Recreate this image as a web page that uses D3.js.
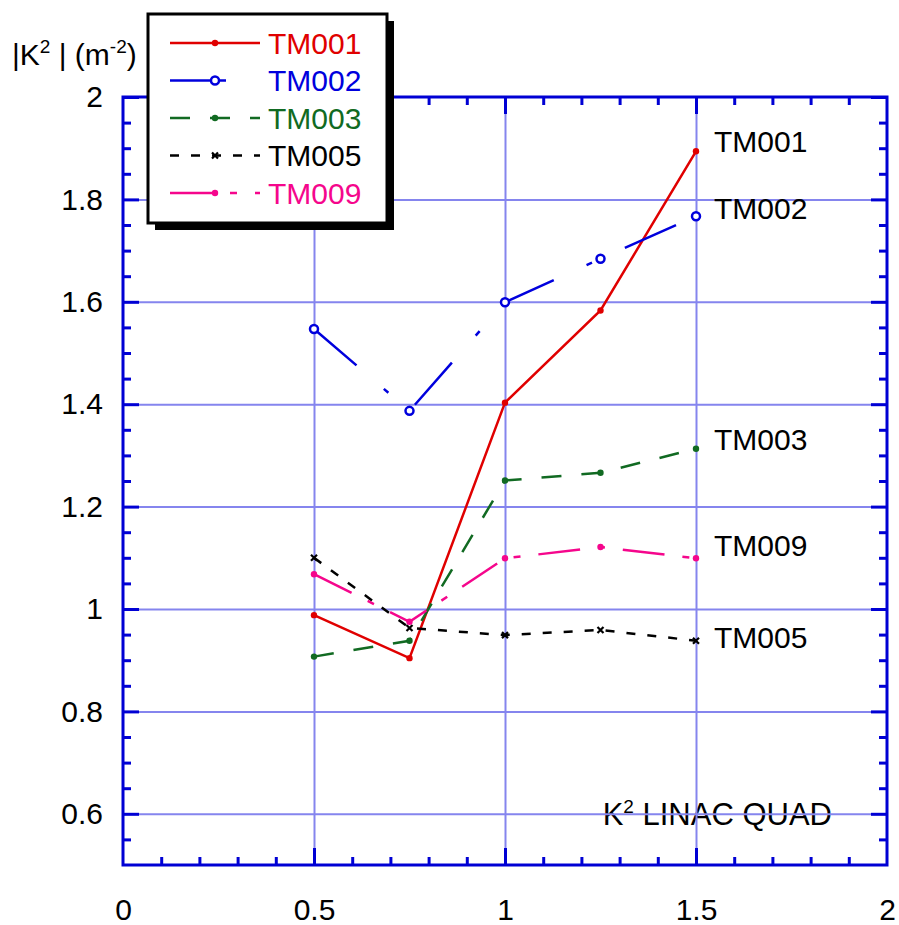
<!DOCTYPE html>
<html>
<head>
<meta charset="utf-8">
<script src="https://cdn.jsdelivr.net/npm/d3@7"></script>
<style>
  body { margin: 0; background: #fff; }
  svg { font-family: Arial, "Liberation Sans", sans-serif; }
  .grid line { stroke: #8585ee; stroke-width: 2; }
  .ticks line { stroke: #0000d4; stroke-width: 3; }
  .lbl text { font-size: 30px; fill: #000; }
</style>
</head>
<body>
<div id="chart"></div>
<script>
// K^2 of linac quad vs. something, 5 modes
const xVals = [0.5, 0.75, 1, 1.25, 1.5];
const seriesNames = ['TM001', 'TM002', 'TM003', 'TM005', 'TM009'];
const tm001 = [0.988, 0.904, 1.403, 1.583, 1.894];
const tm002 = [1.547, 1.387, 1.599, 1.684, 1.767];
const tm003 = [0.907, 0.938, 1.251, 1.266, 1.313];
const tm005 = [1.100, 0.963, 0.949, 0.959, 0.938];
const tm009 = [1.068, 0.975, 1.099, 1.121, 1.099];
const xTicks = [0, 0.5, 1, 1.5, 2];
const yTicks = [0.6, 0.8, 1, 1.2, 1.4, 1.6, 1.8, 2];

const seriesVals = [tm001, tm002, tm003, tm005, tm009];
const colors = ['#e00000', '#0000dd', '#116a22', '#000000', '#f5068c'];
const dashes = ['none', '56,36,6,36', '20,20', '9,12', '42,18,7,18'];
const markers = ['dot', 'ring', 'dot', 'cross', 'dot'];
const labelDy = [1, 3, 1, 7, -2];  // baseline nudges for the end labels

const width = 899, height = 925;
const margin = {left: 123, top: 97, right: 12, bottom: 60};
const w = width - margin.left - margin.right,
      h = height - margin.top - margin.bottom;

const x = d3.scaleLinear().domain([0, 2]).range([0, w]);
const y = d3.scaleLinear().domain([0.5, 2]).range([h, 0]);

const svg = d3.select('#chart').append('svg').attr('width', width).attr('height', height);
const g = svg.append('g').attr('transform', 'translate(' + margin.left + ',' + margin.top + ')');

// note text sits under the grid
g.append('text')
    .attr('x', 709).attr('y', y(0.6) + 11)
    .attr('text-anchor', 'end')
    .style('font-size', '31px')
    .html('K<tspan dy="-12" font-size="19">2</tspan><tspan dy="12"> LINAC QUAD</tspan>');

// grid
g.append('g').attr('class', 'grid')
    .call(d3.axisBottom(x).tickValues([0.5, 1, 1.5]).tickSize(h).tickFormat(''));
g.append('g').attr('class', 'grid')
    .call(d3.axisLeft(y).tickValues(yTicks.filter(v => v < 2)).tickSize(-w).tickFormat(''));
svg.selectAll('.grid .domain').remove();

const range = (a, b, s) => d3.range(Math.round((b - a) / s) + 1).map(i => +(a + i * s).toFixed(3));
const xMinor = range(0.1, 1.9, 0.1).filter(v => Math.abs(v * 2 - Math.round(v * 2)) > 1e-6);
const yMinor = range(0.55, 1.95, 0.05).filter(v => Math.abs(v * 5 - Math.round(v * 5)) > 1e-6);

// inward ticks on all four sides
const tickGroups = [
  [d3.axisBottom(x).tickValues([0.5, 1, 1.5]).tickSize(-17).tickFormat(''), 'translate(0,' + h + ')'],
  [d3.axisBottom(x).tickValues(xMinor).tickSize(-8).tickFormat(''), 'translate(0,' + h + ')'],
  [d3.axisTop(x).tickValues([0.5, 1, 1.5]).tickSize(-17).tickFormat(''), null],
  [d3.axisTop(x).tickValues(xMinor).tickSize(-8).tickFormat(''), null],
  [d3.axisLeft(y).tickValues(yTicks).tickSize(-16).tickFormat(''), null],
  [d3.axisLeft(y).tickValues(yMinor).tickSize(-8).tickFormat(''), null],
  [d3.axisRight(y).tickValues(yTicks).tickSize(-16).tickFormat(''), 'translate(' + w + ',0)'],
  [d3.axisRight(y).tickValues(yMinor).tickSize(-8).tickFormat(''), 'translate(' + w + ',0)']
];
tickGroups.forEach(([ax, tr]) => {
  const tg = g.append('g').attr('class', 'ticks').call(ax);
  if (tr) tg.attr('transform', tr);
  tg.select('.domain').remove();
});

// tick labels
g.append('g').attr('class', 'lbl')
    .call(d3.axisLeft(y).tickValues(yTicks).tickSize(0).tickPadding(20).tickFormat(d3.format('')));
g.append('g').attr('class', 'lbl').attr('transform', 'translate(0,' + h + ')')
    .call(d3.axisBottom(x).tickValues(xTicks).tickSize(0).tickPadding(34).tickFormat(d3.format('')));
svg.selectAll('.lbl .domain').remove();
svg.selectAll('.lbl text').attr('font-family', null).attr('font-size', null);

// frame
g.append('rect').attr('width', w).attr('height', h)
    .attr('fill', 'none').attr('stroke', '#0000d4').attr('stroke-width', 3);

// series
const line = d3.line().x((d, i) => x(xVals[i])).y(d => y(d));

function drawMarker(sel, kind, color, cx, cy) {
  if (kind === 'ring') {
    sel.append('circle').attr('cx', cx).attr('cy', cy).attr('r', 4)
        .attr('fill', '#fff').attr('stroke', color).attr('stroke-width', 2.5);
  } else if (kind === 'cross') {
    sel.append('path')
        .attr('d', 'M' + (cx - 3) + ',' + (cy - 3) + 'L' + (cx + 3) + ',' + (cy + 3) +
                   'M' + (cx + 3) + ',' + (cy - 3) + 'L' + (cx - 3) + ',' + (cy + 3))
        .attr('stroke', color).attr('stroke-width', 2.2);
  } else {
    sel.append('circle').attr('cx', cx).attr('cy', cy).attr('r', 3.2).attr('fill', color);
  }
}

seriesVals.forEach((vals, k) => {
  const sg = g.append('g');
  sg.append('path').attr('d', line(vals))
      .attr('fill', 'none').attr('stroke', colors[k]).attr('stroke-width', 2.5)
      .attr('stroke-dasharray', dashes[k] === 'none' ? null : dashes[k]);
  vals.forEach((v, i) => drawMarker(sg, markers[k], colors[k], x(xVals[i]), y(v)));
  const last = vals.length - 1;
  sg.append('text')
      .attr('x', x(xVals[last]) + 18).attr('y', y(vals[last]) + labelDy[k])
      .style('font-size', '30px').text(seriesNames[k]);
});

// y title
svg.append('text').attr('x', 12).attr('y', 65).style('font-size', '30px')
    .html('|K<tspan dy="-12" font-size="19">2</tspan><tspan dy="12"> | (m</tspan><tspan dy="-12" font-size="19">-2</tspan><tspan dy="12">)</tspan>');

// legend
const lg = svg.append('g').attr('transform', 'translate(148,14)');
lg.append('rect').attr('x', 7).attr('y', 7).attr('width', 239).attr('height', 209).attr('fill', '#000');
lg.append('rect').attr('width', 239).attr('height', 209)
    .attr('fill', '#fff').attr('stroke', '#000').attr('stroke-width', 3);
seriesNames.forEach((name, k) => {
  const ry = 29 + k * 37.5;
  lg.append('line').attr('x1', 22).attr('x2', 112).attr('y1', ry).attr('y2', ry)
      .attr('stroke', colors[k]).attr('stroke-width', 2.5)
      .attr('stroke-dasharray', dashes[k] === 'none' ? null : dashes[k]);
  drawMarker(lg, markers[k], colors[k], 67, ry);
  lg.append('text').attr('x', 120).attr('y', ry).attr('dy', '0.35em')
      .style('font-size', '30px').attr('fill', k === 3 ? '#000' : colors[k]).text(name);
});
</script>
</body>
</html>
